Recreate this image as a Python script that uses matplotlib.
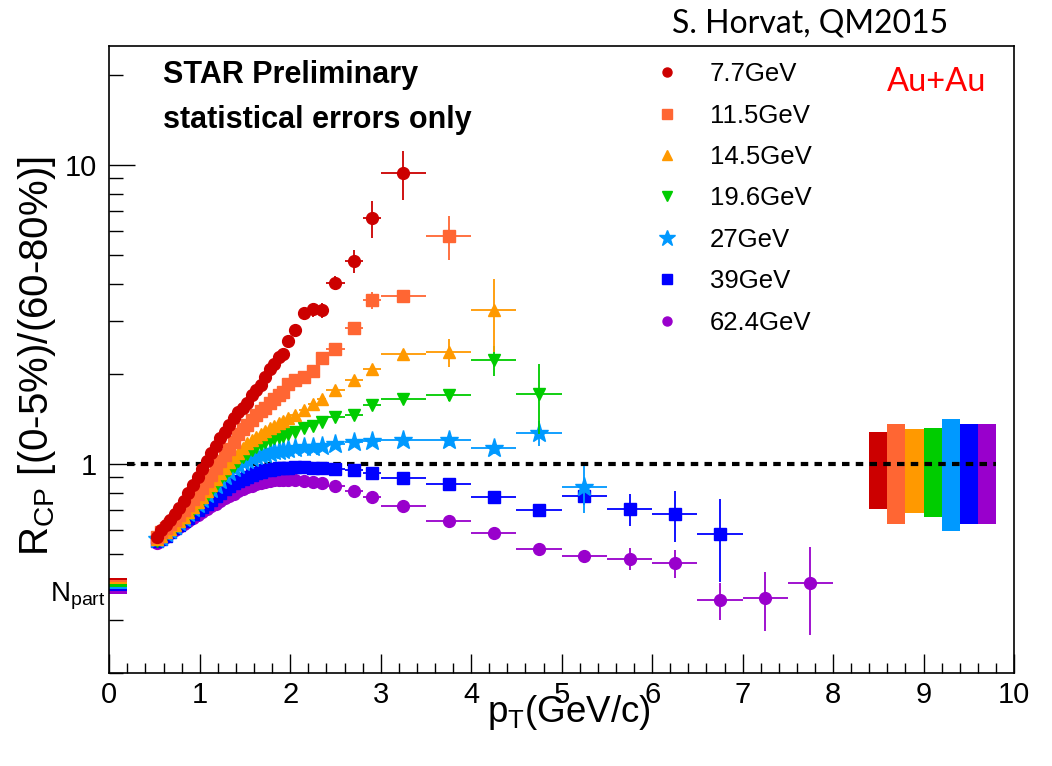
import numpy as np
import matplotlib
matplotlib.use('Agg')
import matplotlib.pyplot as plt
from matplotlib.lines import Line2D
from matplotlib.ticker import FixedLocator, MultipleLocator, NullFormatter, FuncFormatter
import matplotlib.transforms as mtransforms

plt.rcParams['font.family'] = ['Liberation Sans', 'DejaVu Sans']
plt.rcParams['mathtext.fontset'] = 'custom'
plt.rcParams['mathtext.rm'] = 'Liberation Sans'
plt.rcParams['mathtext.it'] = 'Liberation Sans:italic'
plt.rcParams['mathtext.default'] = 'regular'

# pT bin edges (GeV/c)
pt_edges = [0.50, 0.55, 0.60, 0.65, 0.70, 0.75, 0.80, 0.85, 0.90, 0.95, 1.00,
            1.05, 1.10, 1.15, 1.20, 1.25, 1.30, 1.35, 1.40, 1.45, 1.50,
            1.55, 1.60, 1.65, 1.70, 1.75, 1.80, 1.85, 1.90, 1.95, 2.00,
            2.10, 2.20, 2.30, 2.40, 2.60, 2.80, 3.00, 3.50, 4.00, 4.50,
            5.00, 5.50, 6.00, 6.50, 7.00, 7.50, 8.00]

labels = ['7.7GeV', '11.5GeV', '14.5GeV', '19.6GeV', '27GeV', '39GeV', '62.4GeV']
colors = ['#cc0000', '#ff6633', '#ff9900', '#00cc00', '#0099ff', '#0000ff', '#9900cc']
markers = ['o', 's', '^', 'v', '*', 's', 'o']
msizes = [8.5, 8, 8.5, 8.5, 14, 8, 8.5]
leg_sizes = [6.5, 6.5, 6.5, 6.5, 12, 6.5, 6.5]

# R_CP values per energy, bin by bin
rcp_77 = [0.57, 0.60, 0.625, 0.65, 0.68, 0.71, 0.75, 0.80, 0.85, 0.90,
          0.96, 1.02, 1.09, 1.15, 1.22, 1.28, 1.35, 1.42, 1.49, 1.54,
          1.60, 1.70, 1.77, 1.83, 1.95, 2.08, 2.16, 2.27, 2.33, 2.57,
          2.81, 3.18, 3.28, 3.26, 4.03, 4.76, 6.62, 9.38]
rcp_115 = [0.57, 0.59, 0.61, 0.63, 0.65, 0.675, 0.70, 0.73, 0.76, 0.79,
           0.83, 0.875, 0.92, 0.97, 1.02, 1.07, 1.12, 1.18, 1.26, 1.31,
           1.35, 1.40, 1.45, 1.50, 1.54, 1.59, 1.65, 1.70, 1.74, 1.85,
           1.91, 1.95, 2.04, 2.25, 2.41, 2.85, 3.52, 3.64, 5.78]
rcp_145 = [0.56, 0.575, 0.59, 0.605, 0.625, 0.645, 0.665, 0.69, 0.715, 0.745,
           0.775, 0.81, 0.85, 0.89, 0.93, 0.97, 1.01, 1.05, 1.09, 1.13,
           1.17, 1.20, 1.23, 1.26, 1.29, 1.32, 1.34, 1.37, 1.39, 1.42,
           1.45, 1.51, 1.58, 1.65, 1.77, 1.90, 2.08, 2.32, 2.36, 3.26]
rcp_196 = [0.55, 0.565, 0.58, 0.595, 0.615, 0.635, 0.655, 0.675, 0.70, 0.725,
           0.75, 0.78, 0.81, 0.845, 0.88, 0.915, 0.95, 0.985, 1.02, 1.05,
           1.08, 1.11, 1.14, 1.16, 1.18, 1.20, 1.22, 1.23, 1.24, 1.26,
           1.28, 1.32, 1.34, 1.38, 1.43, 1.45, 1.57, 1.65, 1.70, 2.22, 1.71]
rcp_27 = [0.56, 0.57, 0.585, 0.60, 0.62, 0.64, 0.66, 0.685, 0.71, 0.735,
          0.76, 0.79, 0.82, 0.85, 0.88, 0.91, 0.94, 0.965, 0.99, 1.01,
          1.03, 1.045, 1.06, 1.07, 1.08, 1.09, 1.10, 1.105, 1.11, 1.12,
          1.13, 1.14, 1.14, 1.15, 1.16, 1.18, 1.19, 1.20, 1.20, 1.13, 1.27, 0.833]
rcp_39 = [0.55, 0.56, 0.575, 0.59, 0.61, 0.625, 0.645, 0.66, 0.68, 0.70,
          0.715, 0.735, 0.755, 0.78, 0.80, 0.82, 0.84, 0.86, 0.875, 0.89,
          0.905, 0.92, 0.93, 0.94, 0.95, 0.955, 0.96, 0.965, 0.97, 0.97,
          0.975, 0.975, 0.97, 0.965, 0.96, 0.953, 0.931, 0.895, 0.853, 0.771,
          0.70, 0.78, 0.705, 0.678, 0.581]
rcp_624 = [0.545, 0.555, 0.57, 0.585, 0.60, 0.615, 0.63, 0.645, 0.66, 0.675,
           0.69, 0.705, 0.72, 0.735, 0.75, 0.765, 0.78, 0.795, 0.81, 0.82,
           0.835, 0.845, 0.855, 0.862, 0.87, 0.875, 0.88, 0.883, 0.885, 0.885,
           0.88, 0.875, 0.868, 0.861, 0.844, 0.808, 0.775, 0.723, 0.644, 0.588,
           0.517, 0.491, 0.481, 0.466, 0.350, 0.356, 0.398]

# statistical errors above 2 GeV/c (below that they are ~0.01)
err_low = 0.01
err_77 = [0.05, 0.08, 0.18, 0.19, 0.21, 0.42, 0.95, 1.75]
err_115 = [0.04, 0.05, 0.06, 0.08, 0.08, 0.10, 0.23, 0.17, 0.98]
err_145 = [0.02, 0.03, 0.03, 0.04, 0.04, 0.05, 0.06, 0.08, 0.25, 0.90]
err_196 = [0.02, 0.02, 0.02, 0.03, 0.03, 0.04, 0.05, 0.05, 0.08, 0.25, 0.45]
err_27 = [0.01, 0.01, 0.02, 0.02, 0.02, 0.03, 0.03, 0.04, 0.05, 0.05, 0.12, 0.15]
err_39 = [0.01, 0.01, 0.01, 0.01, 0.01, 0.015, 0.015, 0.02, 0.02, 0.02,
          0.03, 0.05, 0.085, 0.13, 0.18]
err_624 = [0.005, 0.005, 0.005, 0.005, 0.005, 0.008, 0.008, 0.01, 0.01, 0.012,
           0.015, 0.02, 0.04, 0.05, 0.05, 0.08, 0.13]

# systematic boxes (right) and Npart scaling bands (left)
sys_lo = [0.706, 0.629, 0.684, 0.664, 0.596, 0.629, 0.629]
sys_hi = [1.28, 1.36, 1.31, 1.32, 1.41, 1.36, 1.36]
npart_hi = [0.415, 0.409, 0.402, 0.395, 0.388, 0.381, 0.374]
npart_lo = [0.409, 0.402, 0.395, 0.388, 0.381, 0.375, 0.367]

rcp = [rcp_77, rcp_115, rcp_145, rcp_196, rcp_27, rcp_39, rcp_624]
errs = [err_77, err_115, err_145, err_196, err_27, err_39, err_624]

edges = np.array(pt_edges)
pt = 0.5 * (edges[1:] + edges[:-1])
hw = 0.5 * (edges[1:] - edges[:-1])

fig = plt.figure(figsize=(10.52, 7.66), dpi=100)
ax = fig.add_axes([0.1039, 0.1218, 0.8600, 0.8185])
ax.set_yscale('log')
ax.set_xlim(0, 10)
ax.set_ylim(0.2, 25)

# systematic boxes
box_x = 8.5 + 0.2 * np.arange(7)
ax.bar(box_x, np.array(sys_hi) - np.array(sys_lo), bottom=sys_lo, width=0.2,
       color=colors, linewidth=0, zorder=2)
# Npart bands
ax.bar(np.full(7, 0.1), np.array(npart_hi) - np.array(npart_lo), bottom=npart_lo,
       width=0.2, color=colors, linewidth=0, zorder=2, clip_on=False)

ax.hlines(1.0, 0.2, 9.8, colors='black', linewidth=3, linestyles=(0, (1.8, 1.5)), zorder=3)

for i in range(7):
    n = len(rcp[i])
    e = [err_low] * (n - len(errs[i])) + errs[i]
    ax.errorbar(pt[:n], rcp[i], xerr=hw[:n], yerr=e, fmt=markers[i], color=colors[i],
                ms=msizes[i], mec=colors[i], elinewidth=1.3, capsize=0,
                zorder=10 + (7 - i))

# axes style
for s in ax.spines.values():
    s.set_linewidth(1.2)
ax.xaxis.set_major_locator(MultipleLocator(1))
ax.xaxis.set_minor_locator(MultipleLocator(0.2))
ax.yaxis.set_major_locator(FixedLocator([1, 10]))
ax.yaxis.set_minor_locator(FixedLocator([0.2, 0.3, 0.4, 0.5, 0.6, 0.7, 0.8, 0.9,
                                         2, 3, 4, 5, 6, 7, 8, 9, 20]))
ax.yaxis.set_major_formatter(FuncFormatter(lambda v, p: '%g' % v))
ax.yaxis.set_minor_formatter(NullFormatter())
ax.tick_params(axis='both', which='both', direction='in', top=False, right=False,
               width=1.0, labelsize=21)
ax.tick_params(axis='y', which='major', length=19, pad=9)
ax.tick_params(axis='y', which='minor', length=10)
ax.tick_params(axis='x', which='major', length=14, pad=6)
ax.tick_params(axis='x', which='minor', length=7)

ax.set_ylabel('R$_{CP}$ [(0-5%)/(60-80%)]', fontsize=29)
ax.yaxis.set_label_coords(-0.057, 0.505)
ax.set_xlabel('p$_{T}$(GeV/c)', fontsize=26.5)
ax.xaxis.set_label_coords(0.508, -0.063)
ax.xaxis.label.set_va('center')

trans = mtransforms.blended_transform_factory(ax.transAxes, ax.transData)
ax.text(-0.004, 0.347, 'N$_{part}$', transform=trans, ha='right', va='baseline', fontsize=20)

handles = [Line2D([], [], linestyle='none', marker=markers[i], color=colors[i],
                  ms=leg_sizes[i], mec=colors[i]) for i in range(7)]
ax.legend(handles, labels, loc='upper left', bbox_to_anchor=(0.605, 0.974),
          frameon=False, fontsize=18.5, handlelength=0.8, handletextpad=1.27,
          labelspacing=0.68, borderpad=0, borderaxespad=0)

fig.text(0.155, 0.8916, 'STAR Preliminary', fontsize=22, fontweight='bold', va='baseline')
fig.text(0.155, 0.8329, 'statistical errors only', fontsize=22, fontweight='bold', va='baseline')
fig.text(0.843, 0.881, 'Au+Au', fontsize=23.5, color='red', va='baseline', family=['Lato', 'DejaVu Sans'])
fig.text(0.639, 0.958, 'S. Horvat, QM2015', fontsize=23, va='baseline', family=['Lato', 'DejaVu Sans'])

fig.savefig('out.png', dpi=100)
